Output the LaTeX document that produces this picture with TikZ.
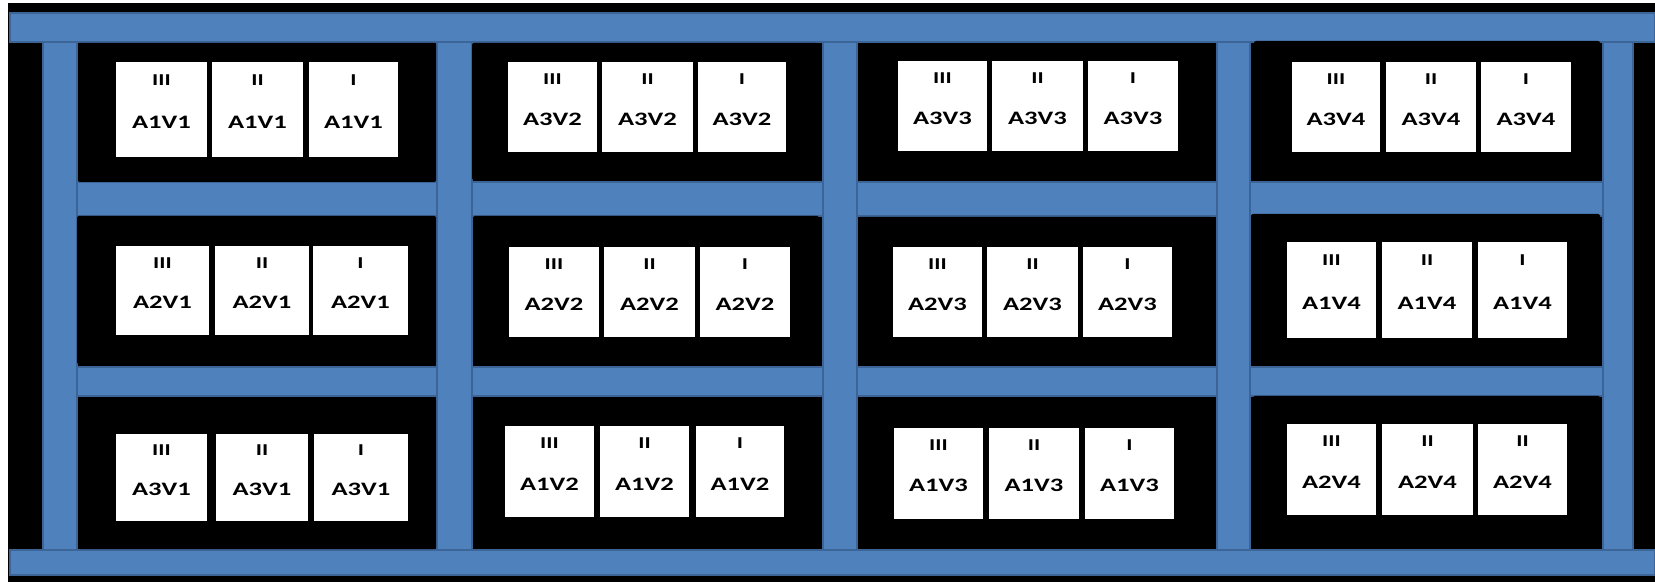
\documentclass[tikz,border=0pt]{standalone}
\usepackage{fontspec}
\usepackage{graphicx}
\newfontfamily\cardfont{Carlito}
\definecolor{steel}{HTML}{4F81BD}
\definecolor{steeledge}{HTML}{3C6496}

% wide lettering used on the bin cards
\newcommand{\wide}[1]{\scalebox{1.4}[1]{#1}}

\tikzset{
  beam/.style={fill=steel, draw=steeledge, line width=0.6pt},
  bin/.style={fill=black, rounded corners=1pt},
  card/.style={rectangle, fill=white, draw=none, inner sep=0pt, outer sep=0pt},
  numtxt/.style={inner sep=0pt, font=\cardfont\bfseries\fontsize{8.3}{10}\selectfont},
  labtxt/.style={inner sep=0pt, font=\cardfont\bfseries\fontsize{9.5}{11}\selectfont},
}

% one card: name, x1, y1, x2, y2, numeral, label
\newcommand{\cardat}[7]{%
  \node[card, minimum width={(#4-#2)*0.5pt}, minimum height={(#5-#3)*0.5pt}]
    (#1) at ({(#2+#4)/2},{(#3+#5)/2}) {};
  \node[numtxt] (#1n) at ({(#2+#4)/2},{#3+0.19*(#5-#3)}) {\wide{#6}};
  \node[labtxt] (#1l) at ({(#2+#4)/2},{#3+0.635*(#5-#3)}) {\wide{#7}};
}

\begin{document}
\begin{tikzpicture}[x=0.5pt, y=-0.5pt]
\useasboundingbox (0,0) rectangle (1655,582);
\fill[white] (0,0) rectangle (1655,582);
% dark backdrop of the rack
\fill[black] (8,3) rectangle (1655,582);

% shelves between the rows
\foreach \xa/\xb in {77/437, 472/823, 857/1217, 1250/1603}{
  \draw[beam] (\xa,182) rectangle (\xb,216);
  \draw[beam] (\xa,367) rectangle (\xb,396);
}

% uprights
\foreach \xa/\xb in {43/77, 437/472, 823/857, 1217/1250, 1603/1633}{
  \draw[beam] (\xa,40) rectangle (\xb,551);
}

% top and bottom beams
\draw[beam] (10,13) rectangle (1655,42);
\draw[beam] (10,550) rectangle (1655,575);

% bins
\foreach \xa/\ya/\xb/\yb in {
  78/43/436/182, 472/43/818/180, 861/44/1212/180, 1254/41/1600/180,
  77/216/436/364, 473/216/819/366, 858/217/1212/365, 1251/214/1600/364,
  78/398/436/549, 473/398/818/548, 862/399/1212/548, 1253/396/1600/547}{
  \fill[bin] (\xa,\ya) rectangle (\xb,\yb);
}

% cards in each bin
\foreach \nm/\ya/\yb/\xa/\xb/\xc/\xd/\xe/\xf/\lab/\nlast in {
  b11/62/157/116/207/212/303/309/398/A1V1/I,
  b12/62/152/508/597/602/693/698/786/A3V2/I,
  b13/61/151/898/987/992/1083/1088/1178/A3V3/I,
  b14/62/152/1292/1380/1386/1476/1481/1571/A3V4/I,
  b21/246/335/116/209/215/309/313/408/A2V1/I,
  b22/247/337/509/599/604/695/700/790/A2V2/I,
  b23/247/337/893/982/987/1078/1083/1172/A2V3/I,
  b24/242/338/1287/1376/1382/1472/1478/1567/A1V4/I,
  b31/434/521/116/207/216/308/314/408/A3V1/I,
  b32/426/517/505/594/600/689/696/784/A1V2/I,
  b33/428/519/894/983/989/1079/1085/1174/A1V3/I,
  b34/424/515/1287/1376/1382/1473/1478/1567/A2V4/II}{
  \cardat{\nm a}{\xa}{\ya}{\xb}{\yb}{III}{\lab}
  \cardat{\nm b}{\xc}{\ya}{\xd}{\yb}{II}{\lab}
  \cardat{\nm c}{\xe}{\ya}{\xf}{\yb}{\nlast}{\lab}
}
\end{tikzpicture}
\end{document}
